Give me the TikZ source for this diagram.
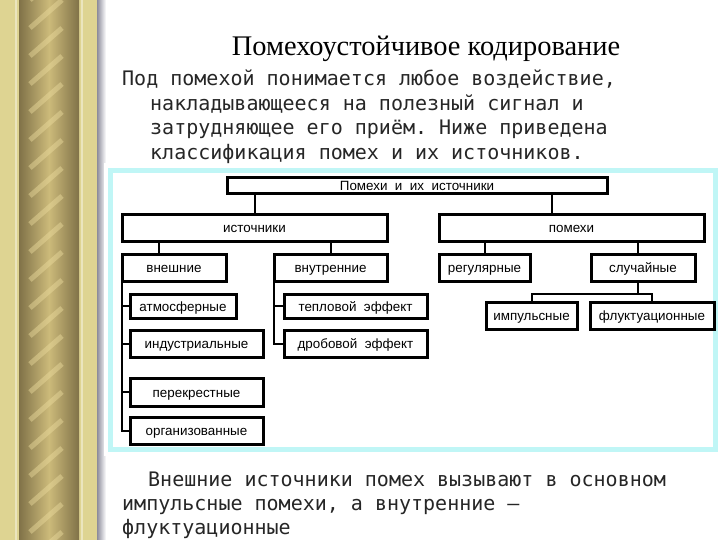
\documentclass[tikz,border=0pt]{standalone}
\usepackage{fontspec}
\setmainfont{Liberation Serif}
\setsansfont{Liberation Sans}
\setmonofont{DejaVu Sans Mono}
\definecolor{frameout}{RGB}{222,212,146}
\definecolor{framedark}{RGB}{128,114,72}
\definecolor{ropemid}{RGB}{204,186,122}
\definecolor{ropelight}{RGB}{236,220,158}
\definecolor{panelline}{RGB}{192,246,246}
\definecolor{shadowgray}{RGB}{140,140,155}
\tikzset{
  box/.style={draw, line width=3pt, fill=white, inner sep=0pt,
    text height=11pt, text depth=1pt,
    font=\sffamily\fontsize{13.4}{15}\selectfont},
  link/.style={line width=2pt},
  mono/.style={anchor=base west, inner sep=0pt,
    font=\ttfamily\fontsize{20}{24}\selectfont, text=black!85}
}
\begin{document}
\begin{tikzpicture}[x=1pt,y=-1pt]
  \useasboundingbox (0,0) rectangle (720,540);
  \fill[white] (0,0) rectangle (720,540);
  \begin{scope}
    \fill[frameout] (0,0) rectangle (97,540);
    \fill[frameout!60!white] (15,0) rectangle (17,540);
    \fill[frameout!60!white] (81,0) rectangle (83,540);
    \shade[left color=framedark, right color=framedark, middle color=ropemid] (19,0) rectangle (79,540);
    \clip (28,0) rectangle (70,540);
    \foreach \y in {0,28,...,580}
      \draw[ropelight, line width=5pt, opacity=0.45] (30,\y) -- (62,\y-28);
  \end{scope}
  \shade[left color=shadowgray, right color=white] (97,0) rectangle (106,540);
  \fill[white] (104,163) rectangle (720,456);
  \draw[panelline, line width=5pt] (110.5,170.5) rectangle (715.5,449.5);

  \node[font=\fontsize{28.4}{32}\selectfont, anchor=base, inner sep=0pt] (title) at (426,56) {Помехоустойчивое кодирование};
  \node[mono] (p1) at (122,86) {Под помехой понимается любое воздействие,};
  \node[mono] (p2) at (150,111) {накладывающееся на полезный сигнал и};
  \node[mono] (p3) at (150,135) {затрудняющее его приём. Ниже приведена};
  \node[mono] (p4) at (150,160) {классификация помех и их источников.};

  \node[box, minimum width=380pt, minimum height=16pt] (top) at (417,186) {Помехи\ \ и\ \ их\ \ источники};
  \node[box, minimum width=265pt, minimum height=26pt] (srcs) at (254.5,228) {источники};
  \node[box, minimum width=265pt, minimum height=26pt] (noise) at (571.5,228) {помехи};
  \node[box, minimum width=104pt, minimum height=27pt] (ext) at (174,267.5) {внешние};
  \node[box, minimum width=113pt, minimum height=27pt] (int) at (330.5,267.5) {внутренние};
  \node[box, minimum width=91pt, minimum height=27pt] (reg) at (484.5,267.5) {регулярные};
  \node[box, minimum width=104pt, minimum height=27pt] (rnd) at (643,267.5) {случайные};
  \node[box, minimum width=91pt, minimum height=27pt] (imp) at (531.5,315.5) {импульсные};
  \node[box, minimum width=124pt, minimum height=27pt] (flu) at (652,315.5) {флуктуационные};
  \node[box, minimum width=106pt, minimum height=24pt] (atm) at (183,306) {атмосферные};
  \node[box, minimum width=133pt, minimum height=27pt] (ind) at (196.5,343.5) {индустриальные};
  \node[box, minimum width=133pt, minimum height=28pt] (per) at (196.5,392) {перекрестные};
  \node[box, minimum width=133pt, minimum height=27pt] (org) at (196.5,430.5) {организованные};
  \node[box, minimum width=143pt, minimum height=24pt] (heat) at (355.5,306) {тепловой\ \ эффект};
  \node[box, minimum width=143pt, minimum height=27pt] (shot) at (355.5,343.5) {дробовой\ \ эффект};

  \draw[link] (srcs.north) -- (srcs.north |- top.south);
  \draw[link] ([xshift=-19.5pt]noise.north) -- ([xshift=-19.5pt]noise.north |- top.south);
  \draw[link] ([xshift=-15pt]ext.north) -- ([xshift=-15pt]ext.north |- srcs.south);
  \draw[link] (int.north) -- (int.north |- srcs.south);
  \draw[link] (reg.north) -- (reg.north |- noise.south);
  \draw[link] ([xshift=-5pt]rnd.north) -- ([xshift=-5pt]rnd.north |- noise.south);
  \draw[link] ([xshift=-5pt]rnd.south) -- ++(0,11) coordinate (rndbus);
  \draw[link] (imp.north) |- (rndbus) -| (flu.north);
  \draw[link] ([xshift=1pt]ext.south west) |- (atm.west);
  \draw[link] ([xshift=1pt]ext.south west) |- (ind.west);
  \draw[link] ([xshift=1pt]ext.south west) |- (per.west);
  \draw[link] ([xshift=1pt]ext.south west) |- (org.west);
  \draw[link] ([xshift=1pt]int.south west) |- (heat.west);
  \draw[link] ([xshift=1pt]int.south west) |- (shot.west);

  \node[mono] (b1) at (148,486) {Внешние источники помех вызывают в основном};
  \node[mono] (b2) at (122,510) {импульсные помехи, а внутренние –};
  \node[mono] (b3) at (122,534) {флуктуационные};
\end{tikzpicture}
\end{document}
